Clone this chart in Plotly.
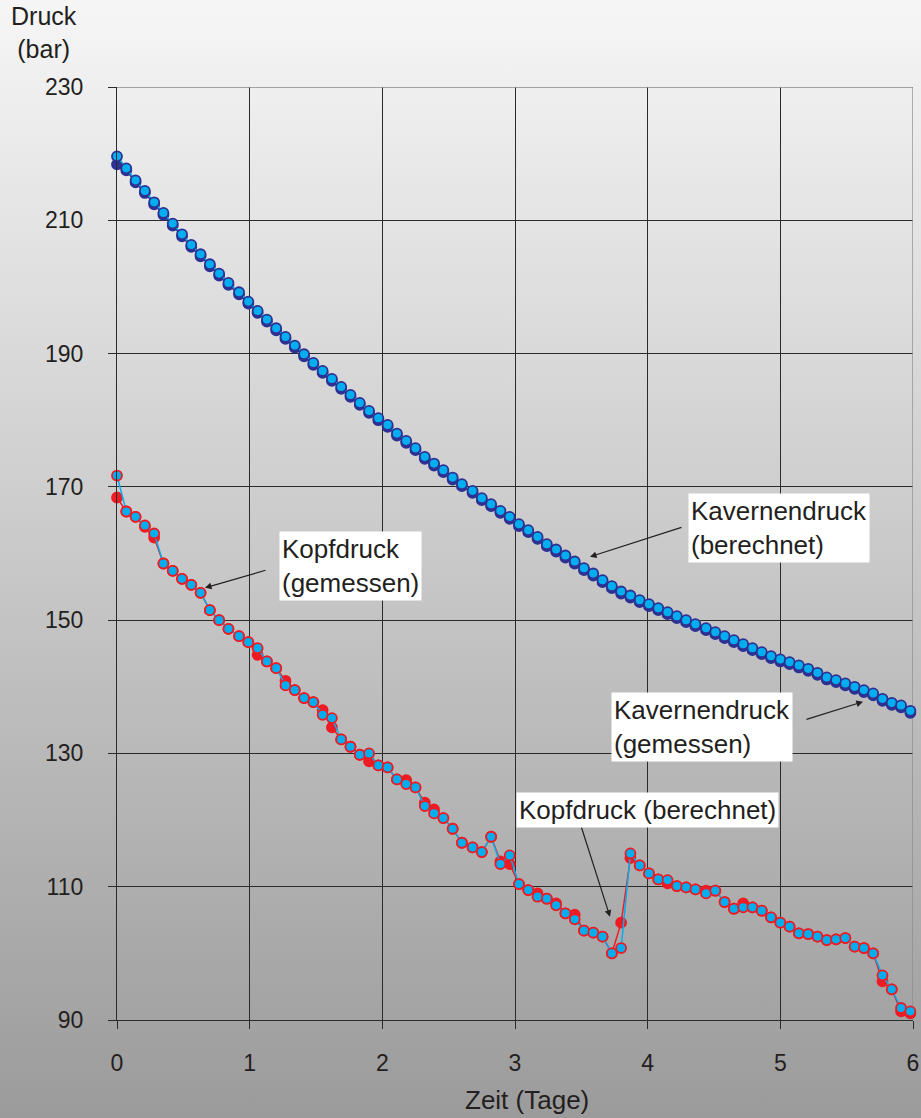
import base64
import plotly.graph_objects as go

# ---------------- data ----------------
zeit = [0.00, 0.07, 0.14, 0.21, 0.28, 0.35, 0.42, 0.49, 0.56, 0.63,
        0.70, 0.77, 0.84, 0.92, 0.99, 1.06, 1.13, 1.20, 1.27, 1.34,
        1.41, 1.48, 1.55, 1.62, 1.69, 1.76, 1.83, 1.90, 1.97, 2.04,
        2.11, 2.18, 2.25, 2.32, 2.39, 2.46, 2.53, 2.60, 2.68, 2.75,
        2.82, 2.89, 2.96, 3.03, 3.10, 3.17, 3.24, 3.31, 3.38, 3.45,
        3.52, 3.59, 3.66, 3.73, 3.80, 3.87, 3.94, 4.01, 4.08, 4.15,
        4.22, 4.29, 4.36, 4.44, 4.51, 4.58, 4.65, 4.72, 4.79, 4.86,
        4.93, 5.00, 5.07, 5.14, 5.21, 5.28, 5.35, 5.42, 5.49, 5.56,
        5.63, 5.70, 5.77, 5.84, 5.91, 5.98]

kavernendruck_berechnet = [
    218.4, 217.5, 215.7, 214.1, 212.4, 210.8, 209.2, 207.6, 206.0, 204.6,
    203.1, 201.7, 200.3, 198.9, 197.5, 196.1, 194.8, 193.5, 192.2, 190.9,
    189.6, 188.3, 187.1, 185.9, 184.7, 183.5, 182.3, 181.1, 180.0, 179.0,
    177.7, 176.6, 175.5, 174.2, 173.2, 172.2, 171.1, 170.1, 169.1, 168.0,
    167.1, 166.1, 165.2, 164.1, 163.2, 162.2, 161.1, 160.3, 159.4, 158.5,
    157.5, 156.7, 155.7, 154.8, 154.0, 153.4, 152.7, 152.1, 151.5, 150.9,
    150.3, 149.7, 149.1, 148.5, 147.9, 147.3, 146.7, 146.1, 145.5, 144.9,
    144.3, 143.8, 143.4, 142.9, 142.4, 141.8, 141.1, 140.7, 140.2, 139.7,
    139.2, 138.7, 137.9, 137.3, 136.9, 136.1]

kavernendruck_gemessen = [
    219.6, 217.8, 216.0, 214.4, 212.7, 211.1, 209.5, 207.9, 206.3, 204.9,
    203.4, 202.0, 200.6, 199.2, 197.8, 196.4, 195.1, 193.8, 192.5, 191.2,
    189.9, 188.6, 187.4, 186.2, 185.0, 183.8, 182.6, 181.4, 180.3, 179.3,
    178.0, 176.9, 175.8, 174.5, 173.5, 172.5, 171.4, 170.4, 169.4, 168.3,
    167.4, 166.4, 165.5, 164.4, 163.5, 162.5, 161.4, 160.6, 159.7, 158.8,
    157.8, 157.0, 156.0, 155.1, 154.3, 153.7, 153.0, 152.4, 151.8, 151.2,
    150.6, 150.0, 149.4, 148.8, 148.2, 147.6, 147.0, 146.4, 145.8, 145.2,
    144.6, 144.1, 143.7, 143.2, 142.7, 142.1, 141.4, 141.0, 140.5, 140.0,
    139.5, 139.0, 138.2, 137.6, 137.2, 136.4]

kopfdruck_berechnet = [
    168.4, 166.3, 165.5, 164.0, 162.4, 158.5, 157.4, 156.2, 155.3, 154.1,
    151.5, 150.0, 148.7, 147.6, 146.7, 144.8, 143.8, 142.8, 140.9, 139.5,
    138.3, 137.7, 136.5, 133.9, 132.1, 131.0, 129.8, 128.8, 128.2, 127.9,
    126.1, 126.0, 124.9, 122.6, 121.6, 120.3, 118.7, 116.6, 115.9, 115.2,
    117.5, 113.8, 113.4, 110.4, 109.5, 109.0, 108.2, 107.5, 106.0, 105.8,
    103.4, 103.1, 102.5, 100.0, 104.6, 114.3, 113.2, 112.0, 111.1, 110.5,
    110.1, 109.9, 109.6, 109.4, 109.4, 107.7, 106.7, 107.5, 106.9, 106.4,
    105.4, 104.6, 104.0, 103.0, 102.9, 102.5, 102.0, 102.1, 102.3, 101.0,
    100.8, 100.0, 95.8, 94.6, 91.3, 91.0]

kopfdruck_gemessen = [
    171.7, 166.3, 165.5, 164.2, 163.0, 158.5, 157.4, 156.2, 155.3, 154.1,
    151.5, 150.0, 148.7, 147.6, 146.7, 145.8, 143.8, 142.8, 140.2, 139.5,
    138.3, 137.7, 135.8, 135.3, 132.1, 131.0, 129.8, 130.0, 128.2, 127.9,
    126.1, 125.4, 124.9, 122.1, 121.0, 120.3, 118.7, 116.6, 115.9, 115.2,
    117.5, 113.4, 114.7, 110.4, 109.5, 108.5, 108.2, 107.2, 106.0, 105.1,
    103.4, 103.1, 102.5, 100.0, 100.8, 115.0, 113.2, 112.0, 111.1, 111.0,
    110.1, 109.9, 109.6, 109.0, 109.4, 107.7, 106.7, 106.9, 106.9, 106.4,
    105.4, 104.6, 104.0, 103.0, 102.9, 102.5, 102.0, 102.1, 102.3, 101.0,
    100.8, 100.0, 96.7, 94.6, 91.8, 91.3]

x_ticks = [0, 1, 2, 3, 4, 5, 6]
y_ticks = [90, 110, 130, 150, 170, 190, 210, 230]

# ---------------- style ----------------
NAVY = "#2E3192"
CYAN = "#00AEEF"
RED = "#ED1C24"
INK = "#231F20"
FONT = "Liberation Sans, Arial, sans-serif"

W, H = 921, 1118
ML, MR, MT, MB = 117, 8, 87, 98
PW, PH = W - ML - MR, H - MT - MB

MS, MLW = 10, 1.8

fig = go.Figure()

fig.add_trace(go.Scatter(
    x=zeit, y=kavernendruck_berechnet, mode="lines+markers", name="Kavernendruck (berechnet)",
    line=dict(color=NAVY, width=1.5),
    marker=dict(size=MS, color=NAVY, line=dict(color=NAVY, width=MLW)),
    cliponaxis=False))
fig.add_trace(go.Scatter(
    x=zeit, y=kavernendruck_gemessen, mode="lines+markers", name="Kavernendruck (gemessen)",
    line=dict(color=CYAN, width=1.5),
    marker=dict(size=MS, color=CYAN, line=dict(color=NAVY, width=MLW)),
    cliponaxis=False))
fig.add_trace(go.Scatter(
    x=zeit, y=kopfdruck_berechnet, mode="lines+markers", name="Kopfdruck (berechnet)",
    line=dict(color=RED, width=1.5),
    marker=dict(size=MS, color=RED, line=dict(color=RED, width=MLW)),
    cliponaxis=False))
fig.add_trace(go.Scatter(
    x=zeit, y=kopfdruck_gemessen, mode="lines+markers", name="Kopfdruck (gemessen)",
    line=dict(color=CYAN, width=1.5),
    marker=dict(size=MS, color=CYAN, line=dict(color=RED, width=MLW)),
    cliponaxis=False))

# gradient background as an svg image covering the whole page
svg = (f'<svg xmlns="http://www.w3.org/2000/svg" width="{W}" height="{H}" preserveAspectRatio="none">'
       '<defs><linearGradient id="g" x1="0" y1="0" x2="0" y2="1">'
       '<stop offset="0" stop-color="#f6f6f6"/><stop offset="1" stop-color="#9b9b9b"/>'
       '</linearGradient></defs>'
       f'<rect width="{W}" height="{H}" fill="url(#g)"/></svg>')
src = "data:image/svg+xml;base64," + base64.b64encode(svg.encode()).decode()
fig.add_layout_image(dict(
    source=src, xref="paper", yref="paper",
    x=-ML / PW, y=(PH + MT) / PH, sizex=W / PW, sizey=H / PH,
    xanchor="left", yanchor="top", sizing="stretch", layer="below"))

# lighter border lines at top (230) and right (6)
fig.add_shape(type="line", xref="x", yref="y", x0=0, x1=6, y0=230, y1=230,
              line=dict(color="#8a8a8a", width=1.3), layer="between")
fig.add_shape(type="line", xref="x", yref="y", x0=6, x1=6, y0=90, y1=230,
              line=dict(color="#8a8a8a", width=1.3), layer="between")

# arrows
arrows = [
    ((0.663, 154.85), (1.131, 157.55)),
    ((3.716, 105.5), (3.497, 119.15)),
    ((3.565, 159.5), (4.266, 164.0)),
    ((5.623, 137.75), (5.186, 135.05)),
]
for (tx, ty), (sx, sy) in arrows:
    fig.add_annotation(x=tx, y=ty, ax=sx, ay=sy, axref="x", ayref="y", text="",
                       showarrow=True, arrowhead=2, arrowsize=1.1, arrowwidth=1.2,
                       arrowcolor=INK, standoff=0, startstandoff=0)

# label boxes
labels = [
    ("Kopfdruck<br>(gemessen)", 1.221, 158.08),
    ("Kopfdruck (berechnet)", 3.007, 121.55),
    ("Kavernendruck<br>(berechnet)", 4.304, 163.78),
    ("Kavernendruck<br>(gemessen)", 3.723, 134.0),
]
for txt, lx, ly in labels:
    fig.add_annotation(x=lx, y=ly, text=txt, showarrow=False, xanchor="left", yanchor="middle",
                       align="left", bgcolor="white", borderpad=2,
                       font=dict(family=FONT, size=26, color=INK))

# axis titles
fig.add_annotation(xref="paper", yref="paper", x=(44 - ML) / PW, y=(PH + MT - 33) / PH,
                   text="Druck<br>(bar)", showarrow=False, xanchor="center", yanchor="middle",
                   align="center", font=dict(family=FONT, size=25, color=INK))
fig.add_annotation(xref="paper", yref="paper", x=(527 - ML) / PW, y=(PH - (1100 - MT)) / PH,
                   text="Zeit (Tage)", showarrow=False, xanchor="center", yanchor="middle",
                   font=dict(family=FONT, size=26, color=INK))

fig.update_layout(
    width=W, height=H, autosize=False,
    margin=dict(l=ML, r=MR, t=MT, b=MB, autoexpand=False),
    paper_bgcolor="#c9c9c9", plot_bgcolor="rgba(0,0,0,0)",
    showlegend=False,
    font=dict(family=FONT, color=INK),
)
fig.update_xaxes(range=[0, 6], tickvals=x_ticks, ticktext=[str(v) for v in x_ticks],
                 automargin=False,
                 showgrid=True, gridcolor="#2b2b2b", gridwidth=1.2, zeroline=False,
                 showline=True, linecolor="#2b2b2b", linewidth=1.3,
                 ticks="outside", ticklen=8, tickcolor="#2b2b2b", tickwidth=1.2,
                 ticklabelstandoff=14, tickfont=dict(family=FONT, size=23, color=INK))
fig.update_yaxes(range=[90, 230], tickvals=y_ticks, ticktext=[str(v) for v in y_ticks],
                 automargin=False,
                 showgrid=True, gridcolor="#2b2b2b", gridwidth=1.2, zeroline=False,
                 showline=True, linecolor="#2b2b2b", linewidth=1.3,
                 ticks="outside", ticklen=8, tickcolor="#2b2b2b", tickwidth=1.2,
                 ticklabelstandoff=20, tickfont=dict(family=FONT, size=23, color=INK))

fig.write_html(
    "out.html",
    config={"displayModeBar": False, "responsive": False},
    post_script="document.body.style.margin='0';document.body.style.overflow='hidden';",
)
